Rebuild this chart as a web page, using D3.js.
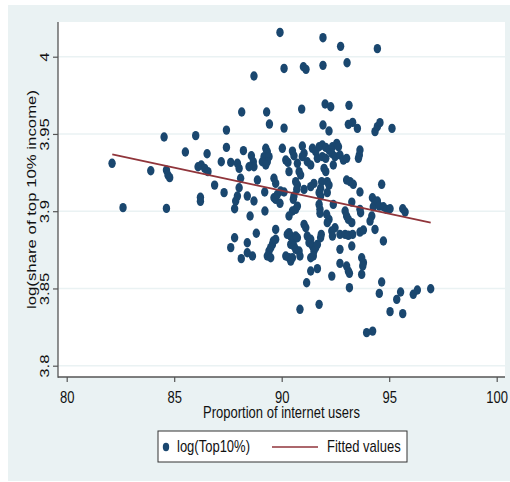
<!DOCTYPE html>
<html>
<head>
<meta charset="utf-8">
<script src="https://cdn.jsdelivr.net/npm/d3@7"></script>
<style>
  html, body { margin: 0; padding: 0; background: #ffffff; }
  svg { display: block; }
  text { font-family: "Liberation Sans", Arial, Helvetica, sans-serif; font-size: 13px; fill: #111; }
</style>
</head>
<body>
<div id="chart"></div>
<script>
// ---------------- data ----------------
const internetUsers = [
  89.92,91.92,92.74,94.45,93.04,91.92,90.11,91.01,91.13,88.71,
  88.14,89.30,90.93,92.02,92.28,93.13,89.43,90.11,91.92,92.20,
  93.10,93.30,93.52,94.34,94.45,94.57,95.13,84.53,86.00,87.43,
  87.43,85.52,86.53,82.11,83.91,84.64,84.71,84.79,86.11,86.26,
  86.42,86.57,86.88,82.62,84.64,86.22,86.22,88.22,87.19,87.63,
  87.94,88.02,88.59,88.68,88.71,88.48,89.26,89.33,89.18,89.41,
  89.33,89.10,89.26,90.03,90.50,90.57,90.19,90.29,90.96,91.04,
  90.96,90.73,90.34,90.81,90.88,91.43,91.58,91.74,91.89,92.05,
  92.20,92.36,91.19,91.35,91.66,91.89,92.05,91.97,92.05,88.09,
  88.87,89.64,89.72,90.65,90.73,91.50,91.35,92.12,92.20,92.56,
  92.64,92.33,92.48,92.71,92.87,93.02,92.40,93.64,93.61,93.57,
  93.02,93.18,93.33,94.65,93.64,93.26,94.22,94.34,94.26,94.45,
  94.54,94.73,94.88,95.04,92.40,92.95,93.02,93.10,93.64,93.67,
  94.19,94.11,95.63,95.74,93.26,92.48,92.33,92.71,92.95,93.10,
  93.30,93.64,93.80,94.34,94.73,92.71,93.26,93.72,93.80,93.77,
  92.71,93.02,93.10,93.15,93.72,92.33,94.65,93.15,94.54,95.53,
  95.35,96.12,96.31,96.93,95.04,95.63,93.95,94.23,
  87.32,88.02,87.94,87.86,87.81,88.40,88.71,88.53,89.21,89.22,
  89.64,89.72,89.80,89.95,90.11,89.92,90.57,90.54,90.70,90.73,
  91.04,90.50,90.34,90.65,91.74,91.81,91.74,91.78,91.78,92.12,
  87.81,87.63,88.40,88.82,88.12,88.40,88.64,89.72,89.57,89.61,
  89.72,89.49,89.41,89.33,89.49,90.26,90.34,90.42,90.57,90.65,
  90.73,90.19,90.34,90.42,90.50,90.42,90.57,90.65,90.81,90.85,
  91.04,91.12,91.19,91.35,91.27,91.43,91.50,91.58,91.66,91.81,
  91.84,91.35,91.47,91.66,91.35,91.16,90.85,91.74,92.20,92.12,
  92.09,92.36,91.86,91.81
];
const logTop10 = [
  4.0157,4.0123,4.0067,4.0052,3.9961,3.9944,3.9924,3.9935,3.9918,3.9875,
  3.9642,3.9642,3.9661,3.9694,3.9676,3.9685,3.9564,3.9538,3.9558,3.9519,
  3.9562,3.9575,3.9536,3.9515,3.9547,3.9573,3.9536,3.9480,3.9489,3.9525,
  3.9413,3.9383,3.9372,3.9310,3.9262,3.9266,3.9234,3.9217,3.9288,3.9299,
  3.9277,3.9256,3.9169,3.9023,3.9018,3.9090,3.9064,3.9392,3.9320,3.9316,
  3.9310,3.9277,3.9359,3.9320,3.9288,3.9288,3.9407,3.9385,3.9353,3.9353,
  3.9320,3.9320,3.9299,3.9407,3.9389,3.9359,3.9331,3.9316,3.9422,3.9374,
  3.9353,3.9310,3.9256,3.9256,3.9234,3.9407,3.9385,3.9417,3.9428,3.9413,
  3.9396,3.9417,3.9320,3.9299,3.9342,3.9353,3.9342,3.9277,3.9256,3.9213,
  3.9202,3.9213,3.9180,3.9191,3.9169,3.9180,3.9159,3.9191,3.9169,3.9439,
  3.9417,3.9374,3.9353,3.9364,3.9331,3.9342,3.9299,3.9396,3.9364,3.9342,
  3.9202,3.9191,3.9174,3.9174,3.9124,3.9059,3.9087,3.9055,3.9029,3.9066,
  3.9033,3.9029,3.9012,3.9016,3.9044,3.9001,3.8969,3.8947,3.9012,3.8990,
  3.8969,3.8936,3.9016,3.8995,3.8926,3.8893,3.8872,3.8850,3.8850,3.8844,
  3.8850,3.8865,3.8878,3.8882,3.8807,3.8753,3.8775,3.8699,3.8667,3.8645,
  3.8662,3.8645,3.8613,3.8598,3.8591,3.8580,3.8542,3.8505,3.8468,3.8477,
  3.8429,3.8462,3.8490,3.8498,3.8350,3.8337,3.8214,3.8224,
  3.9120,3.9152,3.9098,3.9066,3.9016,3.9098,3.9066,3.8969,3.9124,3.9001,
  3.9087,3.9077,3.9109,3.9131,3.9124,3.9051,3.9098,3.9077,3.9141,3.9033,
  3.9141,3.9001,3.8969,3.9012,3.9120,3.9098,3.9044,3.9012,3.8986,3.9120,
  3.8828,3.8764,3.8796,3.8857,3.8693,3.8731,3.8710,3.8882,3.8785,3.8807,
  3.8818,3.8764,3.8742,3.8710,3.8699,3.8850,3.8861,3.8839,3.8818,3.8839,
  3.8828,3.8710,3.8699,3.8677,3.8699,3.8785,3.8775,3.8753,3.8742,3.8710,
  3.8915,3.8893,3.8839,3.8818,3.8796,3.8775,3.8742,3.8764,3.8785,3.8828,
  3.8850,3.8699,3.8710,3.8628,3.8613,3.8537,3.8365,3.8397,3.8947,3.8926,
  3.8980,3.8839,3.9191,3.9148
];
const fitX = [82.12, 96.93];
const fitY = [3.9368, 3.8926];
const xTicks = [80, 85, 90, 95, 100];
const yTicks = [3.8, 3.85, 3.9, 3.95, 4];
const yTickLabels = ["3.8", "3.85", "3.9", "3.95", "4"];
const xTitle = "Proportion of internet users";
const yTitle = "log(share of top 10% income)";
const legendLabels = ["log(Top10%)", "Fitted values"];

// ---------------- layout ----------------
const W = 510, H = 482;
const K = 1.29; // vertical stretch of the original picture
const plot = { left: 58, top: 22, right: 505, bottom: 377 };
const navy = "#1a476f", maroon = "#90353b", bg = "#eaf2f3", axisCol = "#555";

const svg = d3.select("#chart").append("svg").attr("width", W).attr("height", H);
svg.append("rect").attr("width", W).attr("height", H).attr("fill", "#fff");
svg.append("rect").attr("x", 8).attr("y", 5).attr("width", W - 8).attr("height", 476).attr("fill", bg);
svg.append("rect").attr("x", plot.left).attr("y", plot.top)
  .attr("width", plot.right - plot.left).attr("height", plot.bottom - plot.top).attr("fill", "#fff");

const x = d3.scaleLinear().domain([80, 100]).range([66.7, 496.7]);
const y = d3.scaleLinear().domain([3.8, 4]).range([365.7, 56.7]);

// grid
svg.append("g").selectAll("line").data(yTicks).join("line")
  .attr("x1", plot.left).attr("x2", plot.right)
  .attr("y1", d => y(d)).attr("y2", d => y(d))
  .attr("stroke", bg).attr("stroke-width", 1.6);

// points
const pts = d3.range(Math.min(internetUsers.length, logTop10.length))
  .map(i => ({ x: internetUsers[i], y: logTop10[i] }));
svg.append("g").selectAll("ellipse").data(pts).join("ellipse")
  .attr("cx", d => x(d.x)).attr("cy", d => y(d.y))
  .attr("rx", 3.7).attr("ry", 4.7).attr("fill", navy);

// fitted line
const line = d3.line().x(d => x(d[0])).y(d => y(d[1]));
svg.append("path").datum(fitX.map((v, i) => [v, fitY[i]]))
  .attr("d", line).attr("fill", "none").attr("stroke", maroon).attr("stroke-width", 1.7);

// axes
const xAxis = svg.append("g").attr("transform", `translate(0,${plot.bottom})`)
  .call(d3.axisBottom(x).tickValues(xTicks).tickSize(5).tickSizeOuter(0).tickFormat(d3.format("d")));
xAxis.select(".domain").remove();
xAxis.selectAll(".tick line").attr("stroke", axisCol).attr("stroke-width", 1.2);
xAxis.selectAll(".tick text").attr("y", null).attr("dy", null)
  .attr("transform", `translate(0,26) scale(1,${K})`).attr("text-anchor", "middle")
  .style("font-size", "13px").style("fill", "#111");

const yAxis = svg.append("g").attr("transform", `translate(${plot.left},0)`)
  .call(d3.axisLeft(y).tickValues(yTicks).tickSize(5).tickSizeOuter(0)
    .tickFormat((d, i) => yTickLabels[i]));
yAxis.select(".domain").remove();
yAxis.selectAll(".tick line").attr("stroke", axisCol).attr("stroke-width", 1.2);
yAxis.selectAll(".tick text").attr("x", null).attr("dy", null)
  .attr("transform", `translate(-9,0) scale(1,${K}) rotate(-90)`).attr("text-anchor", "middle")
  .style("font-size", "13px").style("fill", "#111");

svg.append("line").attr("x1", plot.left).attr("x2", plot.left)
  .attr("y1", plot.top).attr("y2", plot.bottom + 0.8)
  .attr("stroke", axisCol).attr("stroke-width", 1.3);
svg.append("line").attr("x1", plot.left).attr("x2", plot.right)
  .attr("y1", plot.bottom).attr("y2", plot.bottom)
  .attr("stroke", axisCol).attr("stroke-width", 1.6);

// titles
svg.append("text").attr("transform", `translate(${(plot.left + plot.right) / 2},418) scale(1,${K})`)
  .attr("text-anchor", "middle").text(xTitle);
svg.append("text").attr("transform", `translate(35.5,${(plot.top + plot.bottom) / 2}) scale(1,${K}) rotate(-90)`)
  .attr("text-anchor", "middle").text(yTitle);

// legend
const lg = svg.append("g");
lg.append("rect").attr("x", 158).attr("y", 431).attr("width", 249).attr("height", 31)
  .attr("fill", "#fff").attr("stroke", "#333").attr("stroke-width", 1);
lg.append("ellipse").attr("cx", 166).attr("cy", 447).attr("rx", 3.2).attr("ry", 4.2).attr("fill", navy);
lg.append("text").attr("transform", `translate(177,451.5) scale(1,${K})`).text(legendLabels[0]);
lg.append("line").attr("x1", 272).attr("x2", 318).attr("y1", 447).attr("y2", 447)
  .attr("stroke", maroon).attr("stroke-width", 1.7);
lg.append("text").attr("transform", `translate(327,451.5) scale(1,${K})`).text(legendLabels[1]);
</script>
</body>
</html>
